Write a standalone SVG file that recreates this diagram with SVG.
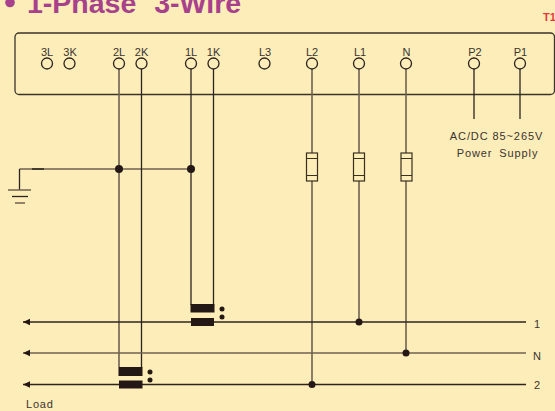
<svg xmlns="http://www.w3.org/2000/svg" width="555" height="411" viewBox="0 0 555 411">
<style>
text{font-family:"Liberation Sans",Arial,sans-serif;fill:#3a3430;font-size:11px}
.m{text-anchor:middle}
.w{fill:none;stroke:#2b2420;stroke-width:1.3}
.g{fill:none;stroke:#6f6252;stroke-width:1.6}
.t{fill:#fdedb9;stroke:#2b2420;stroke-width:1.3}
.k{fill:#231815}
.f{fill:#fdedb9;stroke:#3a3020;stroke-width:1.2}
</style>
<defs><marker id="a" markerUnits="userSpaceOnUse" markerWidth="8" markerHeight="8" refX="7" refY="4" orient="auto"><path d="M7 4L0 0.8V7.200Z" fill="#231815"/></marker></defs>
<rect width="555" height="411" fill="#fdedb9"/>
<g id="title"><circle cx="10" cy="2.500" r="4.800" fill="#a8418c"/><text x="27" y="13" style="font-size:28.500px;font-weight:bold;fill:#a8418c;word-spacing:10px">1-Phase 3-Wire</text></g>
<text x="543" y="21" style="font-size:11px;font-weight:bold;fill:#e8383d">T1</text>
<g id="meter"><rect x="15" y="33" width="539.500" height="61.500" rx="4" fill="none" stroke="#3a342c" stroke-width="1.300"/></g>
<g id="connectors">
<path class="g" d="M119 69V376M312 69V384.500M359 69V322M406 69V353M19.500 169H191"/>
<path class="w" d="M141.500 69V368M191 69V305M213.500 69V305M474 69V119M520 69V119M19.500 169V190M32 169H44"/>
<path class="w" d="M526 322H23" marker-end="url(#a)"/>
<path class="g" d="M526 353H23" marker-end="url(#a)"/>
<path class="w" d="M526 384.500H23" marker-end="url(#a)"/>
<path class="g" d="M8 190H31M15 203H25"/>
<path class="w" d="M12 196.500H28"/>
</g>
<g id="terminals">
<circle class="t" cx="47" cy="63.500" r="5.500"/><circle class="t" cx="69.500" cy="63.500" r="5.500"/>
<circle class="t" cx="119" cy="63.500" r="5.500"/><circle class="t" cx="141.500" cy="63.500" r="5.500"/>
<circle class="t" cx="191" cy="63.500" r="5.500"/><circle class="t" cx="213.500" cy="63.500" r="5.500"/>
<circle class="t" cx="264.500" cy="63.500" r="5.500"/><circle class="t" cx="312" cy="63.500" r="5.500"/>
<circle class="t" cx="359" cy="63.500" r="5.500"/><circle class="t" cx="406" cy="63.500" r="5.500"/>
<circle class="t" cx="474" cy="63.500" r="5.500"/><circle class="t" cx="520" cy="63.500" r="5.500"/>
</g>
<g id="terminal-labels">
<text class="m" x="47" y="56">3L</text><text class="m" x="70" y="56">3K</text>
<text class="m" x="119" y="56">2L</text><text class="m" x="141.500" y="56">2K</text>
<text class="m" x="191" y="56">1L</text><text class="m" x="213.500" y="56">1K</text>
<text class="m" x="265" y="56">L3</text><text class="m" x="312" y="56">L2</text>
<text class="m" x="360" y="56">L1</text><text class="m" x="406.500" y="56">N</text>
<text class="m" x="475" y="56">P2</text><text class="m" x="520.500" y="56">P1</text>
</g>
<g id="fuse-L2"><rect class="f" x="306.500" y="153" width="11" height="28"/><path class="f" d="M306.500 158.500H317.500M306.500 175.500H317.500"/></g>
<g id="fuse-L1"><rect class="f" x="353.500" y="153" width="11" height="28"/><path class="f" d="M353.500 158.500H364.500M353.500 175.500H364.500"/></g>
<g id="fuse-N"><rect class="f" x="401" y="153" width="11" height="28"/><path class="f" d="M401 158.500H412M401 175.500H412"/></g>
<g id="ct1"><rect class="k" x="190.500" y="304" width="24" height="8.500"/><rect class="k" x="191" y="318" width="23" height="8"/><circle class="k" cx="222" cy="309" r="2.500"/><circle class="k" cx="222" cy="317" r="2.500"/></g>
<g id="ct2"><rect class="k" x="119" y="367" width="23.500" height="9"/><rect class="k" x="119" y="380.500" width="23.500" height="8"/><circle class="k" cx="150" cy="372" r="2.500"/><circle class="k" cx="150" cy="380" r="2.500"/></g>
<g id="junctions">
<circle class="k" cx="119" cy="169" r="4"/><circle class="k" cx="191" cy="169" r="4"/>
<circle class="k" cx="359" cy="322" r="3.500"/><circle class="k" cx="406" cy="353" r="3.500"/><circle class="k" cx="312" cy="384.500" r="3.500"/>
</g>
<g id="labels">
<text class="m" x="496.500" y="140" style="letter-spacing:.9px">AC/DC 85~265V</text>
<text class="m" x="497.500" y="156.500" style="letter-spacing:.9px;word-spacing:3px">Power Supply</text>
<text x="534" y="328">1</text><text x="533" y="360">N</text><text x="534" y="389">2</text>
<text x="26" y="408" style="letter-spacing:.8px">Load</text>
</g>
</svg>
